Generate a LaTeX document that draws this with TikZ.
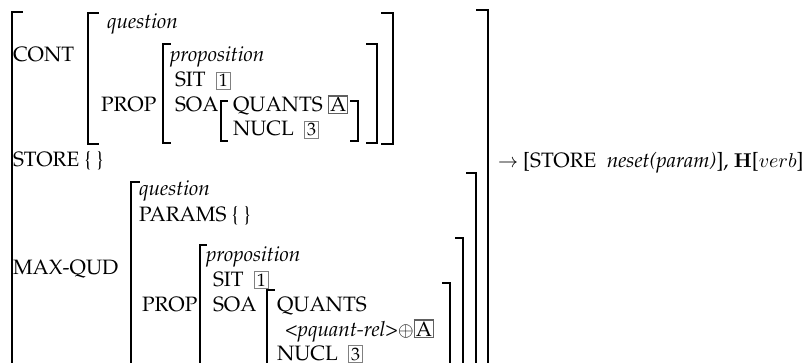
\documentclass[tikz,border=0pt]{standalone}
\usepackage[T1]{fontenc}
\renewcommand{\rmdefault}{ppl}
\tikzset{
  txt/.style={anchor=base west, inner sep=0pt, outer sep=0pt},
  brk/.style={line width=0.55pt, line cap=rect},
}
% structure-sharing tags
\newcommand{\tagnum}[1]{{\setlength\fboxsep{1pt}\setlength\fboxrule{0.4pt}\fcolorbox{gray}{white}{\small #1}}}
\newcommand{\tagA}{{\setlength\fboxsep{0.4pt}\setlength\fboxrule{0.7pt}\fcolorbox{gray!75!black}{white}{A}}}
\begin{document}
\begin{tikzpicture}[x=0.5pt, y=-0.5pt, font=\fontsize{10.4}{12.5}\selectfont]
\useasboundingbox (0,0) rectangle (807,363);

% ---------- outer AVM ----------
\draw[brk] (22,12) -- (12,12) -- (12,375);
\draw[brk] (477,10) -- (488,10) -- (488,375);

% ---------- CONT ----------
\node[txt] (cont) at (13,62) {CONT};
\draw[brk] (98,13) -- (88,13) -- (88,144) -- (98,144);
\draw[brk] (382,13) -- (393,13) -- (393,144) -- (382,144);
\node[txt] (q1) at (107,29) {\itshape question};
\node[txt] (prop1) at (101,112) {PROP};
\draw[brk] (170,44) -- (163,44) -- (163,143) -- (170,143);
\draw[brk] (367,44) -- (377,44) -- (377,143) -- (367,143);
\node[txt] (pr1) at (170,62) {\itshape proposition};
\node[txt] (sit1) at (175,87) {SIT~~\tagnum{1}};
\node[txt] (soa1) at (175,112) {SOA};
\draw[brk] (227,101) -- (221,101) -- (221,141) -- (227,141);
\draw[brk] (351,101) -- (358,101) -- (358,141) -- (351,141);
\node[txt] (qu1) at (233,112) {QUANTS~\tagA};
\node[txt] (nu1) at (233,136) {NUCL~~\tagnum{3}};

% ---------- STORE ----------
\node[txt] (store) at (13,167) {STORE~\{~\}};

% ---------- MAX-QUD ----------
\node[txt] (mq) at (13,274) {MAX-QUD};
\draw[brk] (139,182) -- (131,182) -- (131,375);
\draw[brk] (467,173) -- (476,173) -- (476,375);
\node[txt] (q2) at (139,196) {\itshape question};
\node[txt] (par) at (139,221) {PARAMS~\{~\}};
\node[txt] (prop2) at (142,311) {PROP};
\draw[brk] (206,245) -- (200,245) -- (200,375);
\draw[brk] (456,238) -- (463,238) -- (463,375);
\node[txt] (pr2) at (206,261) {\itshape proposition};
\node[txt] (sit2) at (213,286) {SIT~~\tagnum{1}};
\node[txt] (soa2) at (213,311) {SOA};
\draw[brk] (274,290) -- (267,290) -- (267,375);
\draw[brk] (443,283) -- (450,283) -- (450,375);
\node[txt] (qu2) at (277,311) {QUANTS};
\node[txt] (pq) at (285,336) {\itshape <pquant-rel>\upshape$\oplus$\tagA};
\node[txt] (nu2) at (277,360) {NUCL~~\tagnum{3}};

% ---------- rule consequent ----------
\node[txt] (rhs) at (498,168) {$\rightarrow$ [STORE~~\itshape neset(param)\upshape], $\mathbf{H}$[$verb$]};
\end{tikzpicture}
\end{document}
